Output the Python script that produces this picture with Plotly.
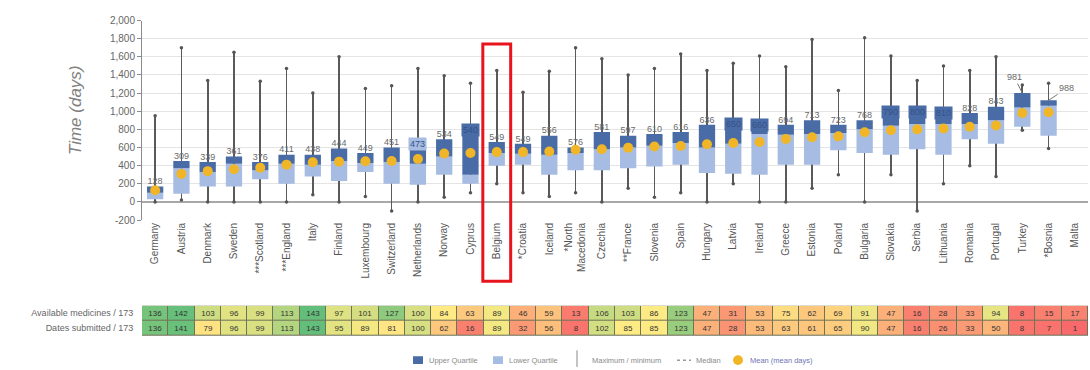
import plotly.graph_objects as go

# ---------------- data ----------------
countries = ["Germany", "Austria", "Denmark", "Sweden", "***Scotland", "***England", "Italy",
             "Finland", "Luxembourg", "Switzerland", "Netherlands", "Norway", "Cyprus", "Belgium",
             "*Croatia", "Iceland", "*North<br>Macedonia", "Czechia", "**France", "Slovenia", "Spain",
             "Hungary", "Latvia", "Ireland", "Greece", "Estonia", "Poland", "Bulgaria", "Slovakia",
             "Serbia", "Lithuania", "Romania", "Portugal", "Turkey", "*Bosnia", "Malta"]

minimum = [0, 20, 0, 0, 0, 0, 80, 0, 60, -100, 0, 50, 100, 200, 100, 60, 100, 0, 150, 50, 100,
           0, 200, 0, 0, 150, 300, 0, 300, -100, 200, 400, 280, 790, 590, None]
lower_q = [30, 90, 170, 170, 250, 200, 280, 230, 330, 200, 190, 300, 200, 400, 410, 300, 350, 350,
           370, 390, 410, 320, 310, 300, 410, 410, 570, 540, 520, 580, 520, 690, 640, 830, 730, None]
median = [100, 370, 330, 420, 350, 420, 410, 450, 430, 440, 420, 500, 300, 540, 530, 520, 540, 580,
          600, 620, 650, 600, 640, 750, 740, 750, 760, 800, 840, 860, 860, 860, 900, 1040, 1060, None]
upper_q = [170, 450, 440, 500, 440, 520, 520, 590, 540, 600, 660, 690, 820, 660, 640, 730, 600, 770,
           730, 750, 770, 850, 880, 870, 850, 900, 850, 900, 1010, 1010, 1000, 980, 1050, 1200, 1120, None]
maximum = [950, 1700, 1340, 1650, 1330, 1470, 1200, 1600, 1250, 1280, 1470, 1390, 1310, 1450, 1210,
           1440, 1700, 1580, 1400, 1470, 1630, 1450, 1530, 1610, 1490, 1790, 1230, 1810, 1610, 1340,
           1500, 1450, 1600, 1290, 1310, None]
mean_days = [128, 309, 339, 361, 376, 411, 438, 444, 449, 451, 473, 534, 540, 549, 549, 556, 576, 581,
             597, 610, 616, 636, 650, 660, 694, 713, 723, 768, 790, 800, 810, 828, 843, 981, 988, None]

available = [136, 142, 103, 96, 99, 113, 143, 97, 101, 127, 100, 84, 63, 89, 46, 59, 13, 106, 103, 86,
             123, 47, 31, 53, 75, 62, 69, 91, 47, 16, 28, 33, 94, 8, 15, 17]
submitted = [136, 141, 79, 96, 99, 113, 143, 95, 89, 81, 100, 62, 16, 89, 32, 56, 8, 102, 85, 85,
             123, 47, 28, 53, 63, 61, 65, 90, 47, 16, 26, 33, 50, 8, 7, 1]
row_labels = ["Available medicines / 173", "Dates submitted / 173"]

y_ticks = [-200, 0, 200, 400, 600, 800, 1000, 1200, 1400, 1600, 1800, 2000]
y_ticktext = ["-200", "0", "200", "400", "600", "800", "1,000", "1,200", "1,400", "1,600", "1,800", "2,000"]

legend_labels = ["Upper Quartile", "Lower Quartile", "Maximum / minimum", "Median", "Mean (mean days)"]

# label styles: "above" normal, "blob" (label over box top), "left"/"right" with leader line
label_style = ["above"] * 10 + ["blob", "above", "blob"] + ["above"] * 9 + ["blob", "blob"] + \
              ["above"] * 4 + ["blob", "blob", "blob", "above", "above", "left", "right", "none"]
highlight = "Belgium"

# ---------------- styles ----------------
DARK = "#4a6ca6"
LIGHT = "#a7bce2"
YELLOW = "#f0b627"
WHISK = "#555555"
FONT = "Liberation Sans, Arial, sans-serif"

W, H = 1090, 370
x_dom = [142 / W, 1088 / W]
y_dom = [1 - 221 / H, 1 - 16 / H]
t_dom = [1 - 340 / H, 1 - 309 / H]


def diff(a, b):
    return [None if (p is None or q is None) else p - q for p, q in zip(a, b)]


fig = go.Figure()

# whiskers (max/min) as thin bars behind boxes
fig.add_trace(go.Bar(x=countries, y=diff(maximum, minimum), base=minimum, width=0.026,
                     marker=dict(color="#5a5a5a", line=dict(width=0)), showlegend=False, hoverinfo="skip"))
fig.add_trace(go.Bar(x=countries, y=diff(median, lower_q), base=lower_q, width=0.62,
                     marker=dict(color=LIGHT, line=dict(width=0)), showlegend=False))
fig.add_trace(go.Bar(x=countries, y=diff(upper_q, median), base=median, width=0.62,
                     marker=dict(color=DARK, line=dict(width=0)), showlegend=False))
# whisker caps
fig.add_trace(go.Scatter(x=countries + countries, y=maximum + minimum, mode="markers",
                         marker=dict(size=3.5, color=WHISK), showlegend=False, hoverinfo="skip"))
# means
fig.add_trace(go.Scatter(x=countries, y=mean_days, mode="markers", showlegend=False,
                         marker=dict(size=10, color=YELLOW, line=dict(width=0))))

# mean labels above boxes
lab_x, lab_y, lab_t = [], [], []
for c, q3, m, s in zip(countries, upper_q, mean_days, label_style):
    if s == "above":
        lab_x.append(c); lab_y.append(q3); lab_t.append(str(m))
fig.add_trace(go.Scatter(x=lab_x, y=lab_y, text=lab_t, mode="text", textposition="top center",
                         textfont=dict(size=9, color="#6a6a6a", family=FONT),
                         showlegend=False, hoverinfo="skip"))

annotations = []
for c, q3, m, s in zip(countries, upper_q, mean_days, label_style):
    if s == "blob":
        bg = LIGHT if c == "Netherlands" else DARK
        annotations.append(dict(x=c, y=q3, xref="x", yref="y", text=str(m), showarrow=False,
                                font=dict(size=9, color="#34528a", family=FONT), bgcolor=bg,
                                borderpad=1, yshift=-2))
    elif s in ("left", "right"):
        annotations.append(dict(x=c, y=q3, xref="x", yref="y", text=str(m), showarrow=True,
                                arrowhead=0, arrowwidth=1, arrowcolor="#777",
                                ax=-8 if s == "left" else 18, ay=-16 if s == "left" else -12,
                                font=dict(size=9, color="#6a6a6a", family=FONT)))

# y-axis title
annotations.append(dict(x=75 / W, y=1 - 108 / H, xref="paper", yref="paper", text="<i>Time (days)</i>",
                        xanchor="center", yanchor="middle",
                        textangle=-90, showarrow=False, font=dict(size=17, color="#808080", family=FONT)))

# table
fig.add_trace(go.Heatmap(x=countries, y=row_labels, z=[available, submitted], xaxis="x2", yaxis="y2",
                         texttemplate="%{z}", textfont=dict(size=8, color="#333333", family=FONT),
                         colorscale=[[0, "#f8696b"], [0.59, "#ffeb84"], [1, "#63be7b"]],
                         zmin=1, zmax=143, showscale=False, xgap=1, ygap=1, hoverinfo="skip"))

idx = countries.index(highlight)
shapes = [
    dict(type="rect", xref="x2 domain", yref="y2 domain", x0=0, x1=1, y0=0, y1=1,
         fillcolor="#6f7358", line=dict(width=0), layer="below"),
    dict(type="rect", xref="x", yref="paper", x0=idx - 0.53, x1=idx + 0.53,
         y0=1 - 284 / H, y1=1 - 40 / H, line=dict(color="#e8141c", width=3), fillcolor="rgba(0,0,0,0)"),
]

# manual legend (decoration, pixel positions)
LY = 1 - 365 / H
def px(v):
    return v / W
def py(v):
    return 1 - v / H
shapes += [
    dict(type="rect", xref="paper", yref="paper", x0=px(413), x1=px(423), y0=py(369), y1=py(361),
         fillcolor=DARK, line=dict(width=0)),
    dict(type="rect", xref="paper", yref="paper", x0=px(493), x1=px(503), y0=py(369), y1=py(361),
         fillcolor=LIGHT, line=dict(width=0)),
    dict(type="line", xref="paper", yref="paper", x0=px(577), x1=px(577), y0=py(372), y1=py(355),
         line=dict(color="#888", width=1)),
    dict(type="line", xref="paper", yref="paper", x0=px(677), x1=px(691), y0=LY, y1=LY,
         line=dict(color="#9a9a9a", width=1.5, dash="dot")),
    dict(type="circle", xref="paper", yref="paper", x0=px(733), x1=px(743), y0=py(370), y1=py(360),
         fillcolor=YELLOW, line=dict(width=0)),
]
for xpos, lab, col in zip([427, 507, 590, 694, 748], legend_labels,
                          ["#8a8a8a", "#8a8a8a", "#8a8a8a", "#8a8a8a", "#6f74b4"]):
    annotations.append(dict(x=px(xpos), y=LY, xref="paper", yref="paper", text=lab, showarrow=False,
                            xanchor="left", yanchor="middle", font=dict(size=7.5, color=col, family=FONT)))

fig.update_layout(
    width=W, height=H, margin=dict(l=0, r=0, t=0, b=0),
    paper_bgcolor="white", plot_bgcolor="white",
    font=dict(family=FONT, color="#666"),
    barmode="overlay", showlegend=False,
    xaxis=dict(domain=x_dom, anchor="y", type="category", range=[-0.5, len(countries) - 0.5],
               tickangle=-90, tickfont=dict(size=10, color="#555"), showgrid=False, showline=False,
               ticks="", zeroline=False),
    yaxis=dict(domain=y_dom, anchor="x", range=[-200, 2000], tickvals=y_ticks, ticktext=y_ticktext,
               tickfont=dict(size=10, color="#666"), gridcolor="#e4e4e4", gridwidth=1,
               zeroline=True, zerolinecolor="#a8a8a8", zerolinewidth=2,
               showline=True, linecolor="#8a8a8a", ticks="outside", ticklen=4, tickcolor="#8a8a8a"),
    xaxis2=dict(domain=x_dom, anchor="y2", matches="x", showticklabels=False, showgrid=False,
                ticks="", zeroline=False),
    yaxis2=dict(domain=t_dom, anchor="x2", type="category", autorange="reversed",
                tickfont=dict(size=9, color="#666"), ticks="outside", ticklen=6, tickcolor="white",
                showgrid=False, zeroline=False),
    annotations=annotations, shapes=shapes,
)

fig.write_html("out.html", config={"displayModeBar": False},
               post_script="document.body.style.margin='0';")
